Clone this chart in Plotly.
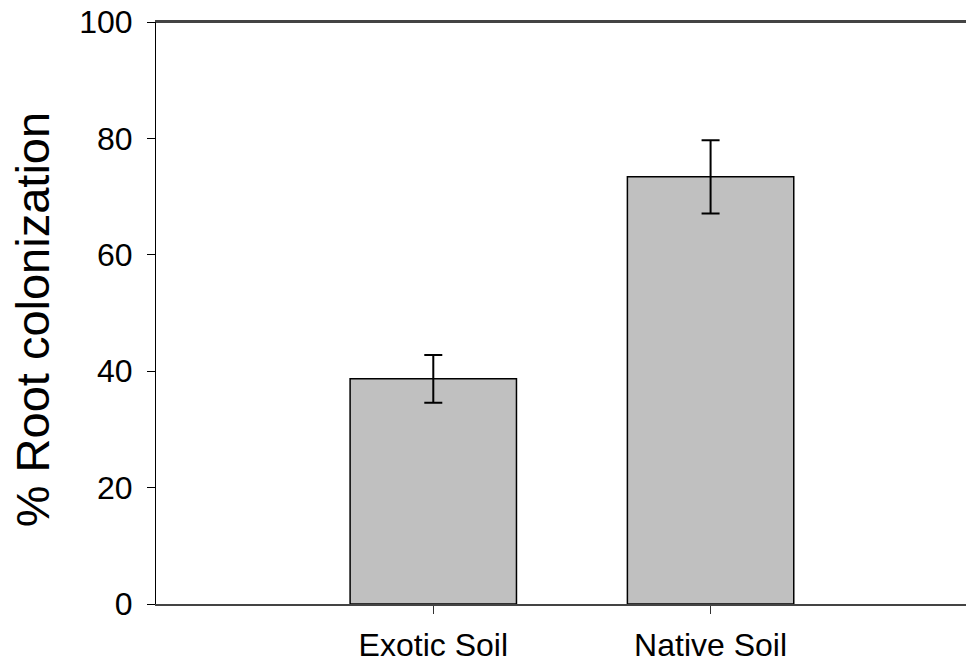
import plotly.graph_objects as go

categories = ["Exotic Soil", "Native Soil"]
positions = [1, 2]
values = [38.7, 73.4]
errors = [4.1, 6.3]
y_ticks = [0, 20, 40, 60, 80, 100]
y_title = "% Root colonization"

fig = go.Figure()
fig.add_trace(go.Bar(
    x=positions, y=values, width=0.6,
    marker=dict(color="#c0c0c0", line=dict(color="black", width=1.5)),
    error_y=dict(type="data", array=errors, visible=True, color="black", thickness=2, width=9),
))
fig.update_layout(
    width=966, height=658,
    margin=dict(l=148, r=0, t=14, b=62),
    paper_bgcolor="white", plot_bgcolor="white",
    showlegend=False,
    font=dict(family="Arial, Liberation Sans, sans-serif", color="black"),
    xaxis=dict(
        range=[0, 2.95], tickmode="array", tickvals=positions, ticktext=categories,
        ticks="outside", ticklen=8, tickcolor="#333", tickwidth=1,
        showline=True, linecolor="#444", linewidth=2, mirror=True,
        showgrid=False, zeroline=False, tickfont=dict(size=32),
        ticklabelstandoff=4, automargin=False, ticklabeloverflow="allow",
    ),
    yaxis=dict(
        range=[0, 100], tickmode="array", tickvals=y_ticks,
        ticks="outside", ticklen=8, tickcolor="black", tickwidth=1,
        showline=True, linecolor="black", linewidth=1,
        showgrid=False, zeroline=False, tickfont=dict(size=32),
        ticklabelstandoff=8, ticklabeloverflow="allow", automargin=False,
    ),
    shapes=[dict(type="line", xref="paper", yref="paper", x0=0, x1=1, y0=1, y1=1,
                 layer="above", line=dict(color="#444", width=2))],
    annotations=[dict(text=y_title, xref="paper", yref="paper", x=-0.150, y=0.488,
                      xanchor="center", yanchor="middle", textangle=-90,
                      showarrow=False, font=dict(size=47))],
)
fig.write_html("out.html")
